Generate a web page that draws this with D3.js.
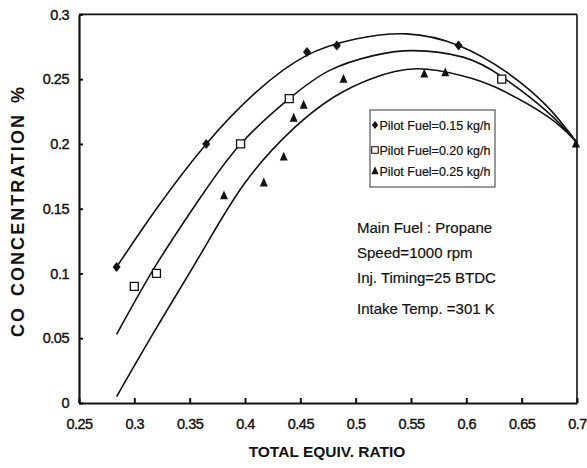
<!DOCTYPE html>
<html>
<head>
<meta charset="utf-8">
<script src="https://cdn.jsdelivr.net/npm/d3@7"></script>
<style>
  body { margin: 0; background: #fff; }
  svg { font-family: Arial, "Liberation Sans", sans-serif; }
</style>
</head>
<body>
<script>
// measured points, CO % vs total equivalence ratio
var pilot015 = [[0.284, 0.105], [0.365, 0.200], [0.456, 0.271], [0.483, 0.276], [0.593, 0.276]];
var pilot020 = [[0.300, 0.090], [0.320, 0.100], [0.396, 0.200], [0.440, 0.235], [0.632, 0.250]];
var pilot025 = [[0.381, 0.160], [0.417, 0.170], [0.435, 0.190], [0.444, 0.220], [0.453, 0.230],
                [0.489, 0.250], [0.562, 0.254], [0.581, 0.255], [0.699, 0.200]];

// trend lines
var fit015 = [[0.284, 0.105], [0.32, 0.150], [0.365, 0.200], [0.41, 0.240], [0.455, 0.268], [0.50, 0.281],
              [0.546, 0.285], [0.593, 0.276], [0.637, 0.255], [0.673, 0.229], [0.70, 0.201]];
var fit020 = [[0.284, 0.053], [0.32, 0.107], [0.36, 0.159], [0.396, 0.200], [0.44, 0.235], [0.477, 0.257],
              [0.515, 0.268], [0.552, 0.272], [0.597, 0.267], [0.632, 0.252], [0.673, 0.225], [0.70, 0.201]];
var fit025 = [[0.284, 0.005], [0.32, 0.058], [0.36, 0.115], [0.40, 0.170], [0.444, 0.212], [0.48, 0.236],
              [0.513, 0.250], [0.555, 0.258], [0.597, 0.2525], [0.627, 0.2435], [0.673, 0.2215], [0.70, 0.201]];

var xTicks = [0.25, 0.3, 0.35, 0.4, 0.45, 0.5, 0.55, 0.6, 0.65, 0.7];
var xTickLabels = ["0.25", "0.3", "0.35", "0.4", "0.45", "0.5", "0.55", "0.6", "0.65", "0.7"];
var yTicks = [0, 0.05, 0.1, 0.15, 0.2, 0.25, 0.3];
var yTickLabels = ["0", "0.05", "0.1", "0.15", "0.2", "0.25", "0.3"];

var legendLabels = ["Pilot Fuel=0.15 kg/h", "Pilot Fuel=0.20 kg/h", "Pilot Fuel=0.25 kg/h"];
var noteLines = ["Main Fuel : Propane", "Speed=1000 rpm", "Inj. Timing=25 BTDC", "Intake Temp. =301 K"];

var width = 587, height = 468;
var plotLeft = 79, plotRight = 577, plotTop = 14.4, plotBottom = 403;

var svg = d3.select("body").append("svg")
  .attr("width", width)
  .attr("height", height);

var x = d3.scaleLinear().domain([0.25, 0.7]).range([plotLeft, plotRight]);
var y = d3.scaleLinear().domain([0, 0.3]).range([plotBottom, plotTop]);

// marker shapes
function diamond(s) { return "M0," + (-s * 1.25) + "L" + s + ",0L0," + (s * 1.25) + "L" + (-s) + ",0Z"; }
function square(s) { return "M" + (-s) + "," + (-s) + "h" + (2 * s) + "v" + (2 * s) + "h" + (-2 * s) + "Z"; }
function triangle(s) { return "M0," + (-s * 1.3) + "L" + s + "," + (s * 0.9) + "L" + (-s) + "," + (s * 0.9) + "Z"; }

// frame: top and right
svg.append("line").attr("x1", plotLeft).attr("x2", plotRight).attr("y1", plotTop).attr("y2", plotTop)
  .attr("stroke", "#111").attr("stroke-width", 1.6);
svg.append("line").attr("x1", plotRight).attr("x2", plotRight).attr("y1", plotTop).attr("y2", plotBottom)
  .attr("stroke", "#111").attr("stroke-width", 1.6);

// axes
var xAxis = d3.axisBottom(x)
  .tickValues(xTicks)
  .tickFormat(function(d, i) { return xTickLabels[i]; })
  .tickSizeInner(-5)
  .tickSizeOuter(0)
  .tickPadding(16);

var yAxis = d3.axisLeft(y)
  .tickValues(yTicks)
  .tickFormat(function(d, i) { return yTickLabels[i]; })
  .tickSizeInner(-4)
  .tickSizeOuter(0)
  .tickPadding(10);

var gx = svg.append("g").attr("transform", "translate(0," + plotBottom + ")").call(xAxis);
var gy = svg.append("g").attr("transform", "translate(" + plotLeft + ",0)").call(yAxis);

[gx, gy].forEach(function(g) {
  g.select(".domain").attr("stroke", "#111").attr("stroke-width", 2.2);
  g.selectAll(".tick line").attr("stroke", "#111").attr("stroke-width", 2);
  g.selectAll(".tick text")
    .attr("fill", "#111")
    .style("font-size", "14.5px")
    .style("font-family", "Arial, 'Liberation Sans', sans-serif")
    .style("letter-spacing", "-0.5px")
    .attr("stroke", "#111").attr("stroke-width", 0.4);
});

// axis titles
svg.append("text")
  .attr("x", 327).attr("y", 457)
  .attr("text-anchor", "middle")
  .style("font-size", "15.5px").style("font-weight", "bold")
  .attr("fill", "#111")
  .text("TOTAL EQUIV. RATIO");

svg.append("text")
  .attr("transform", "translate(24,212) rotate(-90)")
  .attr("text-anchor", "middle")
  .attr("textLength", 250)
  .attr("lengthAdjust", "spacing")
  .style("font-size", "18px").style("font-weight", "bold")
  .style("word-spacing", "3px")
  .attr("fill", "#111")
  .text("CO CONCENTRATION %");

// trend lines
var line = d3.line()
  .x(function(d) { return x(d[0]); })
  .y(function(d) { return y(d[1]); })
  .curve(d3.curveNatural);

[fit015, fit020, fit025].forEach(function(f) {
  svg.append("path")
    .datum(f)
    .attr("d", line)
    .attr("fill", "none")
    .attr("stroke", "#111")
    .attr("stroke-width", 1.6);
});

// markers
svg.selectAll(".p015").data(pilot015).enter().append("path")
  .attr("transform", function(d) { return "translate(" + x(d[0]) + "," + y(d[1]) + ")"; })
  .attr("d", diamond(4))
  .attr("fill", "#111");

svg.selectAll(".p020").data(pilot020).enter().append("path")
  .attr("transform", function(d) { return "translate(" + x(d[0]) + "," + y(d[1]) + ")"; })
  .attr("d", square(4))
  .attr("fill", "#fff")
  .attr("stroke", "#111")
  .attr("stroke-width", 1.3);

svg.selectAll(".p025").data(pilot025).enter().append("path")
  .attr("transform", function(d) { return "translate(" + x(d[0]) + "," + y(d[1]) + ")"; })
  .attr("d", triangle(4))
  .attr("fill", "#111");

// legend
var legend = svg.append("g");
legend.append("rect")
  .attr("x", 370).attr("y", 110)
  .attr("width", 125).attr("height", 77)
  .attr("fill", "#fff")
  .attr("stroke", "#555")
  .attr("stroke-width", 1.2);

var legendShapes = [diamond(3.2), square(3.3), triangle(3.6)];
var legendY = [125, 150, 171];

legendLabels.forEach(function(lbl, i) {
  var m = legend.append("path")
    .attr("transform", "translate(375," + legendY[i] + ")")
    .attr("d", legendShapes[i]);
  if (i == 1) {
    m.attr("fill", "#fff").attr("stroke", "#111").attr("stroke-width", 1.1);
  } else {
    m.attr("fill", "#111");
  }
  legend.append("text")
    .attr("x", 379.5).attr("y", legendY[i])
    .attr("dy", "0.36em")
    .style("font-size", "12.5px")
    .attr("fill", "#111")
    .attr("stroke", "#111").attr("stroke-width", 0.2)
    .text(lbl);
});

// test conditions
var noteY = [228, 253, 278, 309];
noteLines.forEach(function(t, i) {
  svg.append("text")
    .attr("x", 357).attr("y", noteY[i])
    .attr("dy", "0.36em")
    .style("font-size", "15px")
    .attr("fill", "#111")
    .attr("stroke", "#111").attr("stroke-width", 0.2)
    .text(t);
});
</script>
</body>
</html>
